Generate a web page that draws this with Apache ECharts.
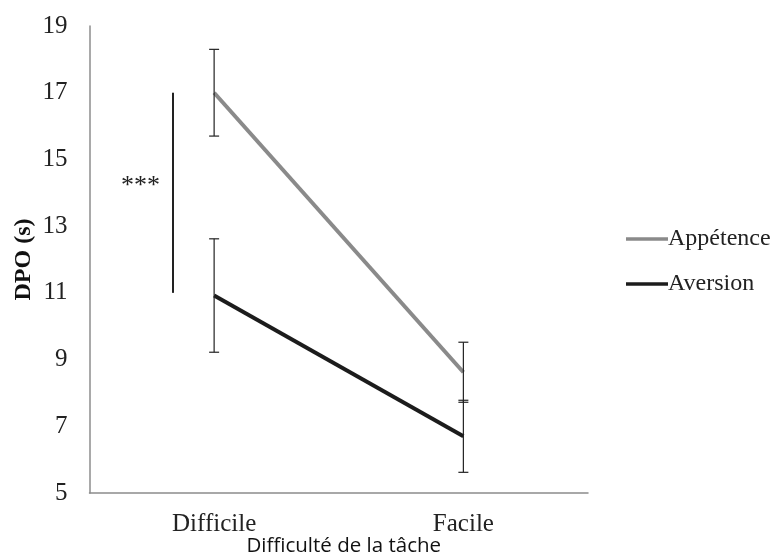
<!DOCTYPE html>
<html>
<head>
<meta charset="utf-8">
<script src="https://cdn.jsdelivr.net/npm/echarts@6/dist/echarts.min.js"></script>
<style>html,body{margin:0;padding:0;background:#fff}#c{width:777px;height:556px}</style>
</head>
<body>
<div id="c"></div>
<script>
// ---- data ----
const categories = ['Difficile', 'Facile'];
const appetence = [17.0, 8.62];
const appetenceErr = [1.3, 0.9];
const aversion = [10.92, 6.7];
const aversionErr = [1.7, 1.08];
const yTicks = { min: 5, max: 19, interval: 2 };
const sigBar = { x: -0.165, from: 11.0, to: 17.0, label: '***', labelX: -0.217, labelY: 14.2 };

const serif = '"Liberation Serif", "Times New Roman", serif';
const chart = echarts.init(document.getElementById('c'), null, { renderer: 'canvas' });

function errData(vals, errs) {
  return vals.map((v, i) => [i, v - errs[i], v + errs[i]]);
}

function errRender(params, api) {
  const x = api.value(0);
  const lo = api.coord([x, api.value(1)]);
  const hi = api.coord([x, api.value(2)]);
  const cap = 5;
  const style = { stroke: '#222', lineWidth: 1.2 };
  return {
    type: 'group',
    children: [
      { type: 'line', shape: { x1: lo[0], y1: lo[1], x2: hi[0], y2: hi[1] }, style },
      { type: 'line', shape: { x1: lo[0] - cap, y1: lo[1], x2: lo[0] + cap, y2: lo[1] }, style },
      { type: 'line', shape: { x1: hi[0] - cap, y1: hi[1], x2: hi[0] + cap, y2: hi[1] }, style }
    ]
  };
}

const option = {
  animation: false,
  backgroundColor: '#fff',
  grid: { left: 89.5, top: 26, width: 498.5, height: 467, containLabel: false, outerBoundsMode: 'none' },
  legend: {
    data: [
      { name: 'Appétence', itemStyle: { color: '#8a8a8a' } },
      { name: 'Aversion', itemStyle: { color: '#1c1c1c' } }
    ],
    orient: 'vertical',
    left: 621,
    top: 222,
    icon: 'rect',
    itemWidth: 42,
    itemHeight: 3.5,
    itemGap: 21,
    textStyle: { fontFamily: serif, fontSize: 24, color: '#222', padding: [0, 0, 0, -5] }
  },
  xAxis: [
    {
      type: 'category',
      data: categories,
      axisLine: { lineStyle: { color: '#8c8c8c', width: 1.5 } },
      axisTick: { show: false },
      axisLabel: { margin: 19, fontFamily: serif, fontSize: 25, color: '#222' },
      name: 'Difficulté de la tâche',
      nameLocation: 'middle',
      nameGap: 43,
      nameMoveOverlap: false,
      nameTextStyle: { fontFamily: '"Open Sans", "Noto Sans", sans-serif', fontSize: 20.5, color: '#111', padding: [0, 0, 0, 10] },
      splitLine: { show: false }
    },
    {
      type: 'value',
      min: -0.5,
      max: 1.5,
      show: false
    }
  ],
  yAxis: {
    type: 'value',
    min: yTicks.min,
    max: yTicks.max,
    interval: yTicks.interval,
    axisLine: { show: true, onZero: false, lineStyle: { color: '#8c8c8c', width: 1.5 } },
    axisTick: { show: false },
    splitLine: { show: false },
    axisLabel: { margin: 22, fontFamily: serif, fontSize: 25, color: '#222' },
    name: 'DPO (s)',
    nameLocation: 'middle',
    nameGap: 54,
    nameMoveOverlap: false,
    nameRotate: 90,
    nameTextStyle: { fontFamily: serif, fontSize: 24, fontWeight: 'bold', color: '#111' }
  },
  series: [
    {
      name: 'Appétence',
      type: 'line',
      data: appetence,
      symbol: 'none',
      lineStyle: { color: '#8a8a8a', width: 4 },
      itemStyle: { color: '#8a8a8a' },
      z: 3
    },
    {
      name: 'Aversion',
      type: 'line',
      data: aversion,
      symbol: 'none',
      lineStyle: { color: '#1c1c1c', width: 4 },
      itemStyle: { color: '#1c1c1c' },
      z: 3
    },
    {
      type: 'custom',
      name: 'errA',
      data: errData(appetence, appetenceErr),
      renderItem: errRender,
      z: 4
    },
    {
      type: 'custom',
      name: 'errB',
      data: errData(aversion, aversionErr),
      renderItem: errRender,
      z: 4
    },
    {
      type: 'custom',
      name: 'sig',
      xAxisIndex: 1,
      data: [[sigBar.x, sigBar.from, sigBar.to, sigBar.labelX, sigBar.labelY]],
      renderItem: function (params, api) {
        const a = api.coord([api.value(0), api.value(1)]);
        const b = api.coord([api.value(0), api.value(2)]);
        const t = api.coord([api.value(3), api.value(4)]);
        return {
          type: 'group',
          children: [
            { type: 'line', shape: { x1: a[0], y1: a[1], x2: b[0], y2: b[1] }, style: { stroke: '#222', lineWidth: 2 } },
            { type: 'text', x: t[0], y: t[1], style: { text: sigBar.label, fontFamily: serif, fontSize: 26, fill: '#222', align: 'right', verticalAlign: 'middle' } }
          ]
        };
      }
    }
  ]
};
chart.setOption(option);
</script>
</body>
</html>
